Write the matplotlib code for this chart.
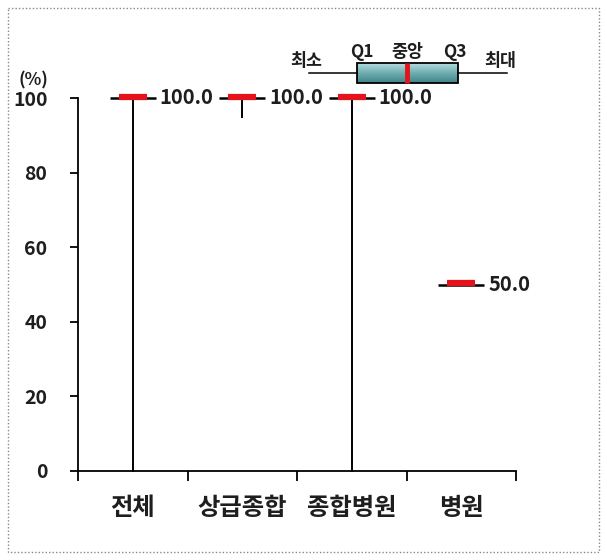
import numpy as np
import matplotlib
matplotlib.use("Agg")
import matplotlib.pyplot as plt
from matplotlib.patches import Rectangle
from matplotlib.colors import LinearSegmentedColormap
from matplotlib.transforms import offset_copy

plt.rcParams["font.family"] = ["Noto Sans CJK KR", "DejaVu Sans"]
plt.rcParams["font.weight"] = "heavy"

# 분포 요약값 (%)
categories = ["전체", "상급종합", "종합병원", "병원"]
mins = [0.0, 95.0, 0.0, 50.0]
q1s = [100.0, 100.0, 100.0, 50.0]
medians = [100.0, 100.0, 100.0, 50.0]
q3s = [100.0, 100.0, 100.0, 50.0]
maxs = [100.0, 100.0, 100.0, 50.0]
y_ticks = [0, 20, 40, 60, 80, 100]

TEXT = "#1e1e1e"
RED = "#e5121c"
WT = "heavy"

W, H = 607, 560
fig = plt.figure(figsize=(W / 100, H / 100), dpi=100)
ax = fig.add_axes([78 / W, 1 - 471 / H, 438 / W, 373 / H])

x = np.arange(len(categories))
box_w = 0.42
med_w = 0.26
red_tr = offset_copy(ax.transData, fig=fig, x=0, y=1.5, units="dots")

for i in x:
    # whiskers
    ax.plot([i, i], [mins[i], q1s[i]], color="black", lw=1.4, clip_on=False, zorder=2)
    ax.plot([i, i], [q3s[i], maxs[i]], color="black", lw=1.4, clip_on=False, zorder=2)
    # box
    ax.add_patch(Rectangle((i - box_w / 2, q1s[i]), box_w, q3s[i] - q1s[i],
                           facecolor="#79b3b5", edgecolor="black", lw=1.8,
                           clip_on=False, zorder=3))
    # median
    ax.plot([i - med_w / 2, i + med_w / 2], [medians[i], medians[i]],
            color=RED, lw=4.5, solid_capstyle="butt", transform=red_tr,
            clip_on=False, zorder=4)
    ax.text(i + 0.245, medians[i], f"{medians[i]:.1f}", ha="left", va="center",
            fontsize=14.5, fontweight=WT, color=TEXT)

ax.set_xlim(-0.5, len(categories) - 0.5)
ax.set_ylim(0, 100)
ax.set_yticks(y_ticks)
ax.set_yticklabels([str(v) for v in y_ticks], fontsize=14, fontweight=WT, color=TEXT)
ax.tick_params(axis="y", length=6, width=1.3, pad=16)

ax.set_xticks(np.arange(len(categories) + 1) - 0.5)
ax.set_xticklabels([])
ax.tick_params(axis="x", which="major", length=7, width=1.3)
ax.set_xticks(x, minor=True)
ax.set_xticklabels(categories, minor=True, fontsize=17.5, fontweight=WT, color=TEXT)
ax.tick_params(axis="x", which="minor", length=0, pad=18)

for s in ["top", "right"]:
    ax.spines[s].set_visible(False)
for s in ["left", "bottom"]:
    ax.spines[s].set_linewidth(1.3)

fig.text(33 / W, 1 - 80 / H, "(%)", ha="center", va="center",
         fontsize=12.5, fontweight=WT, color=TEXT)

# legend + border overlay in pixel coordinates
ov = fig.add_axes([0, 0, 1, 1], zorder=5)
ov.patch.set_alpha(0)
cmap = LinearSegmentedColormap.from_list("teal", ["#b5dcde", "#6fadb0", "#3f8487"])
grad = np.linspace(0, 1, 64).reshape(-1, 1)
ov.imshow(grad, cmap=cmap, extent=[357, 458, 83, 63], origin="upper", aspect="auto")
ov.add_patch(Rectangle((357, 63), 101, 20, fill=False, edgecolor="black", lw=1.3))
ov.plot([309, 357], [73, 73], color="black", lw=1.1)
ov.plot([458, 507], [73, 73], color="black", lw=1.1)
ov.plot([407, 407], [63, 83], color=RED, lw=3.5, solid_capstyle="butt")
for lx, ly, lab in [(306, 61, "최소"), (362, 52, "Q1"), (407, 52, "중앙"),
                    (455, 52, "Q3"), (500, 61, "최대")]:
    ov.text(lx, ly, lab, ha="center", va="center", fontsize=12.5,
            fontweight=WT, color=TEXT)
ov.add_patch(Rectangle((8, 8), W - 16, H - 16, fill=False, edgecolor="#888888",
                       lw=1, ls=(0, (1, 1.5))))
ov.set_xlim(0, W)
ov.set_ylim(H, 0)
ov.axis("off")

fig.savefig("out.png", dpi=100, facecolor="white")
